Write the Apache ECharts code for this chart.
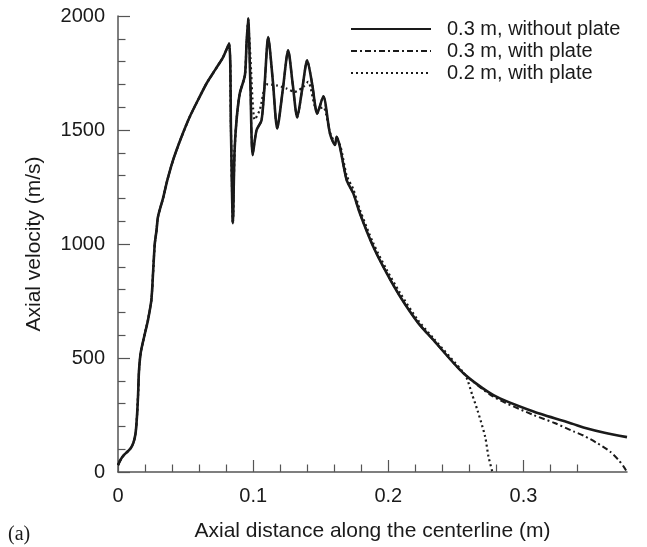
<!DOCTYPE html>
<html>
<head>
<meta charset="utf-8">
<script src="https://cdn.jsdelivr.net/npm/echarts@6/dist/echarts.min.js"></script>
<style>
  html, body { margin: 0; padding: 0; background: #fff; }
  #chart { width: 647px; height: 547px; }
</style>
</head>
<body>
<div id="chart"></div>
<script>
// Axial velocity along the nozzle centreline (m/s) against axial distance (m)

// 0.3 m, without plate
const distSolid = [0, 0.0025, 0.005, 0.0075, 0.0095, 0.0115, 0.013, 0.014, 0.0148, 0.0155, 0.0165, 0.0175,
  0.02, 0.0222, 0.0247, 0.026, 0.0272, 0.0285, 0.0296, 0.0333, 0.0365, 0.0407, 0.047, 0.0531, 0.0595,
  0.0655, 0.072, 0.0778, 0.0822, 0.0836, 0.085, 0.0862, 0.0877, 0.0901, 0.0939, 0.0951, 0.0963, 0.098,
  0.0996, 0.1025, 0.1062, 0.1085, 0.1111, 0.1145, 0.1178, 0.122, 0.1259, 0.1293, 0.1326, 0.1363, 0.14,
  0.1437, 0.1474, 0.1519, 0.1568, 0.1605, 0.1618, 0.1642, 0.1692, 0.1741, 0.179, 0.1889, 0.1988, 0.2087,
  0.2222, 0.2333, 0.2556, 0.2778, 0.3074, 0.337, 0.3444, 0.36, 0.3766];
const velSolid = [30, 60, 78, 92, 105, 130, 170, 240, 330, 440, 510, 545,
  610, 667, 755, 880, 1000, 1060, 1120, 1200, 1280, 1367, 1470, 1558, 1635,
  1704, 1765, 1820, 1879, 1490, 1091, 1400, 1543, 1660, 1740, 1879, 1989, 1690,
  1390, 1499, 1543, 1700, 1908, 1720, 1507, 1680, 1850, 1700, 1555, 1680, 1806,
  1700, 1572, 1648, 1485, 1434, 1470, 1426, 1280, 1222, 1134, 988, 872, 770,
  653, 579, 433, 337, 265, 210, 195, 172, 153];

// 0.3 m, with plate: follows the free jet, then falls to zero at the plate
const distPlate3 = [0.2778, 0.3074, 0.323, 0.337, 0.3444, 0.355, 0.364, 0.37, 0.374, 0.3766];
const velPlate3 = [330, 250, 215, 178, 160, 125, 90, 55, 25, 0];

// 0.2 m, with plate
const distPlate2 = [0.0963, 0.0976, 0.1012, 0.105, 0.11, 0.1173, 0.1247, 0.1309, 0.137, 0.1407, 0.147,
  0.1519, 0.1568, 0.1605, 0.1642, 0.1692, 0.1741, 0.179, 0.1889, 0.1988, 0.2087, 0.2222, 0.2333, 0.2556,
  0.2585, 0.262, 0.266, 0.2716, 0.2741, 0.277];
const velPlate2 = [1960, 1860, 1545, 1590, 1700, 1696, 1682, 1667, 1689, 1711, 1590,
  1600, 1490, 1445, 1435, 1300, 1240, 1150, 1003, 887, 785, 664, 587, 436,
  405, 340, 270, 156, 68, 0];

const xMajorTicks = [0, 0.1, 0.2, 0.3];
const xMinorTicks = [0.02, 0.04, 0.06, 0.08, 0.12, 0.14, 0.16, 0.18, 0.22, 0.24, 0.26, 0.28, 0.32, 0.34];

function pairs(xs, ys) { return xs.map((x, i) => [x, ys[i]]); }

// the two plate cases share the free-jet profile upstream of their own departure point
const solidPts = pairs(distSolid, velSolid);
const plate3Pts = solidPts.filter(p => p[0] < distPlate3[0]).concat(pairs(distPlate3, velPlate3));
const plate2Pts = solidPts.filter(p => p[0] < distPlate2[0]).concat(pairs(distPlate2, velPlate2));

const ink = '#1a1a1a';
const axisInk = '#555';
const font = 'Liberation Sans, Arial, sans-serif';
const X_MAX = 0.3766;

const chart = echarts.init(document.getElementById('chart'), null, { renderer: 'canvas' });
chart.setOption({
  animation: false,
  backgroundColor: '#fff',
  grid: { left: 118, right: 20, top: 16, bottom: 75 },
  legend: {
    orient: 'vertical',
    left: 345,
    top: 14,
    itemWidth: 80,
    itemHeight: 14,
    itemGap: 2,
    itemStyle: { opacity: 0 },
    textStyle: { fontFamily: font, fontSize: 20, color: ink, padding: [0, 0, 0, 11] },
    data: ['0.3 m, without plate', '0.3 m, with plate', '0.2 m, with plate']
  },
  xAxis: [{
    type: 'value',
    min: 0, max: X_MAX,
    position: 'bottom',
    name: 'Axial distance along the centerline (m)',
    nameLocation: 'middle',
    nameGap: 49,
    nameTextStyle: { fontFamily: font, fontSize: 21, color: ink },
    axisLine: { lineStyle: { color: axisInk, width: 1.5 } },
    axisTick: { inside: true, length: 12, customValues: xMajorTicks, lineStyle: { color: axisInk, width: 1.2 } },
    axisLabel: { customValues: xMajorTicks, margin: 14, fontFamily: font, fontSize: 20, color: ink,
      formatter: v => (v === 0 ? '0' : v.toFixed(1)) },
    splitLine: { show: false }
  }, {
    type: 'value',
    min: 0, max: X_MAX,
    position: 'bottom',
    axisLine: { show: false },
    axisTick: { inside: true, length: 7.5, customValues: xMinorTicks, lineStyle: { color: axisInk, width: 1.2 } },
    axisLabel: { show: false },
    splitLine: { show: false }
  }],
  yAxis: {
    type: 'value',
    min: 0, max: 2000, interval: 500,
    name: 'Axial velocity (m/s)',
    nameLocation: 'middle',
    nameGap: 73,
    nameTextStyle: { fontFamily: font, fontSize: 21, color: ink },
    axisLine: { show: true, lineStyle: { color: axisInk, width: 1.5 } },
    axisTick: { show: true, inside: true, length: 12, lineStyle: { color: axisInk, width: 1.2 } },
    minorTick: { show: true, splitNumber: 5, length: 7.5, lineStyle: { color: axisInk, width: 1.2 } },
    axisLabel: { margin: 13, fontFamily: font, fontSize: 20, color: ink, formatter: v => String(v) },
    splitLine: { show: false }
  },
  graphic: [{
    type: 'text', left: 8, top: 525,
    style: { text: '(a)', fontFamily: 'Liberation Serif, Times New Roman, serif', fontSize: 20, fill: ink }
  }],
  series: [{
    name: '0.3 m, without plate', type: 'line', data: solidPts, smooth: 0.25,
    showSymbol: false, symbol: 'none', z: 3,
    lineStyle: { color: ink, width: 2.6, type: 'solid' }, itemStyle: { color: ink }
  }, {
    name: '0.3 m, with plate', type: 'line', data: plate3Pts, smooth: 0.25,
    showSymbol: false, symbol: 'none', z: 2,
    lineStyle: { color: ink, width: 2, type: [6, 3, 2, 3] }, itemStyle: { color: ink }
  }, {
    name: '0.2 m, with plate', type: 'line', data: plate2Pts, smooth: 0.25,
    showSymbol: false, symbol: 'none', z: 2,
    lineStyle: { color: ink, width: 2.2, type: [2, 3] }, itemStyle: { color: ink }
  }]
});
</script>
</body>
</html>
